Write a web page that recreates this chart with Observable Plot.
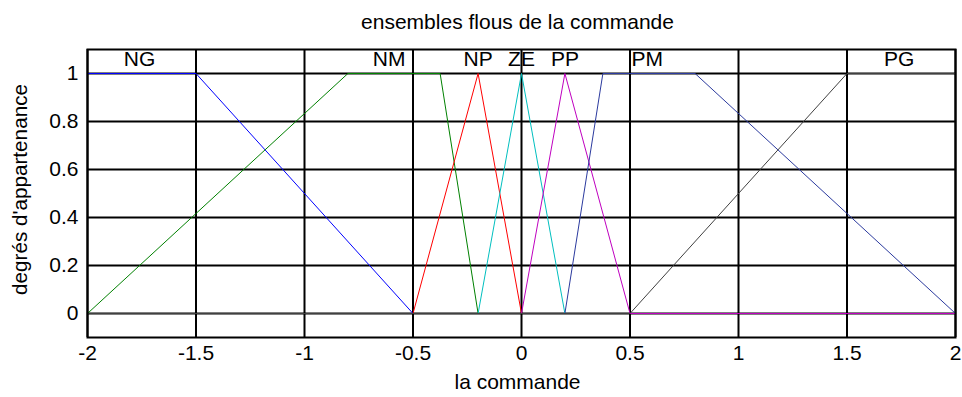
<!DOCTYPE html>
<html>
<head>
<meta charset="utf-8">
<script src="https://cdn.jsdelivr.net/npm/d3@7"></script>
<script src="https://cdn.jsdelivr.net/npm/@observablehq/plot@0.6"></script>
<style>
  html, body { margin: 0; padding: 0; background: #fff; }
  #chart svg { display: block; }
</style>
</head>
<body>
<div id="chart"></div>
<script>
// Fuzzy sets of the command (universe -2..2)
const setNames = ["NG", "NM", "NP", "ZE", "PP", "PM", "PG"];
const setColors = ["#0000ff", "#008000", "#ff0000", "#00bfbf", "#bf00bf", "#2b3a9e", "#404040"];

const NG_x = [-2, -1.5, -0.5, 2];          const NG_mu = [1, 1, 0, 0];
const NM_x = [-2, -0.8, -0.375, -0.2, 2];  const NM_mu = [0, 1, 1, 0, 0];
const NP_x = [-2, -0.5, -0.2, 0, 2];       const NP_mu = [0, 0, 1, 0, 0];
const ZE_x = [-2, -0.2, 0, 0.2, 2];        const ZE_mu = [0, 0, 1, 0, 0];
const PP_x = [-2, 0, 0.2, 0.5, 2];         const PP_mu = [0, 0, 1, 0, 0];
const PM_x = [-2, 0.2, 0.375, 0.8, 2];     const PM_mu = [0, 0, 1, 1, 0];
const PG_x = [-2, 0.5, 1.5, 2];            const PG_mu = [0, 0, 1, 1];

// label positions of set names
const labelX = [-1.76, -0.61, -0.2, 0, 0.2, 0.58, 1.74];
const labelY = 1.06;

const xTicks = [-2, -1.5, -1, -0.5, 0, 0.5, 1, 1.5, 2];
const xTickLabels = ["-2", "-1.5", "-1", "-0.5", "0", "0.5", "1", "1.5", "2"];
const yTicks = [0, 0.2, 0.4, 0.6, 0.8, 1];
const yTickLabels = ["0", "0.2", "0.4", "0.6", "0.8", "1"];

const titleText = "ensembles flous de la commande";
const xLabel = "la commande";
const yLabel = "degrés d'appartenance";

const xs = [NG_x, NM_x, NP_x, ZE_x, PP_x, PM_x, PG_x];
const mus = [NG_mu, NM_mu, NP_mu, ZE_mu, PP_mu, PM_mu, PG_mu];
const lineData = [];
setNames.forEach((name, i) => {
  xs[i].forEach((x, j) => lineData.push({set: name, x, mu: mus[i][j]}));
});
const labelData = setNames.map((name, i) => ({name, x: labelX[i], y: labelY}));

const font = "'Liberation Sans', Arial, sans-serif";
const fs = 21;

const chart = Plot.plot({
  width: 962,
  height: 397,
  marginLeft: 87,
  marginRight: 7,
  marginTop: 49,
  marginBottom: 60,
  style: {fontFamily: font, fontSize: fs + "px", color: "#000", background: "#fff"},
  x: {domain: [-2, 2], label: null},
  y: {domain: [-0.1, 1.1], label: null},
  color: {domain: setNames, range: setColors},
  marks: [
    Plot.ruleX(xTicks, {stroke: "#000", strokeWidth: 2}),
    Plot.ruleY(yTicks, {stroke: "#000", strokeWidth: 2}),
    Plot.lineY(lineData, {x: "x", y: "mu", z: "set", stroke: "set", strokeWidth: 1}),
    Plot.text(labelData, {x: "x", y: "y", text: "name", fill: "#000", fontSize: fs, textAnchor: "middle"}),
    Plot.frame({stroke: "#000", strokeWidth: 2}),
    Plot.axisX({ticks: xTicks, tickFormat: (d) => xTickLabels[xTicks.indexOf(d)], tickSize: 0, tickPadding: 8, fontSize: fs, label: null}),
    Plot.axisY({ticks: yTicks, tickFormat: (d) => yTickLabels[yTicks.indexOf(d)], tickSize: 0, tickPadding: 9, fontSize: fs, label: null}),
    Plot.text([titleText], {frameAnchor: "top", dy: -35, dx: -4, text: (d) => d, fontSize: fs, fill: "#000"}),
    Plot.text([xLabel], {frameAnchor: "bottom", dy: 51, dx: -4, text: (d) => d, fontSize: fs, fill: "#000"}),
    Plot.text([yLabel], {frameAnchor: "left", dx: -67, dy: -4, rotate: -90, textAnchor: "middle", text: (d) => d, fontSize: 20.7, fill: "#000"})
  ]
});
document.getElementById("chart").appendChild(chart);
</script>
</body>
</html>
